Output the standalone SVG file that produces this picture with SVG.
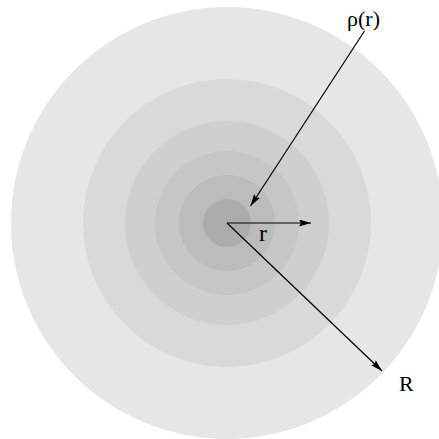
<svg xmlns="http://www.w3.org/2000/svg" width="439" height="439" viewBox="0 0 439 439">
<style>
.lbl{font-family:"Liberation Serif","Times New Roman",serif;font-size:22px;fill:#000}
.ar{stroke:#000;stroke-width:1.2;fill:none}
</style>
<defs>
<marker id="ah" markerUnits="userSpaceOnUse" markerWidth="13" markerHeight="8" refX="12" refY="3.5" orient="auto">
<path d="M0,0 L12,3.5 L0,7 L2,3.5 z" fill="#000"/>
</marker>
</defs>
<rect width="439" height="439" fill="#fff"/>
<g id="shells">
<circle cx="227" cy="223" r="216" fill="#e6e6e6"/>
<circle cx="227" cy="223" r="144" fill="#d9d9d9"/>
<circle cx="227" cy="223" r="102" fill="#cfcfcf"/>
<circle cx="227" cy="223" r="72" fill="#c6c6c6"/>
<circle cx="227" cy="223" r="48" fill="#bcbcbc"/>
<circle cx="227" cy="223" r="24" fill="#acacac"/>
</g>
<g id="connectors">
<line class="ar" x1="364.5" y1="31" x2="250.5" y2="206" marker-end="url(#ah)"/>
<line class="ar" x1="227" y1="223" x2="311" y2="223" marker-end="url(#ah)"/>
<line class="ar" x1="227" y1="223" x2="382" y2="371" marker-end="url(#ah)"/>
</g>
<g id="labels">
<text class="lbl" x="347" y="26">ρ(r)</text>
<text class="lbl" x="259" y="241" style="font-size:24px">r</text>
<text class="lbl" x="399" y="391">R</text>
</g>
</svg>
